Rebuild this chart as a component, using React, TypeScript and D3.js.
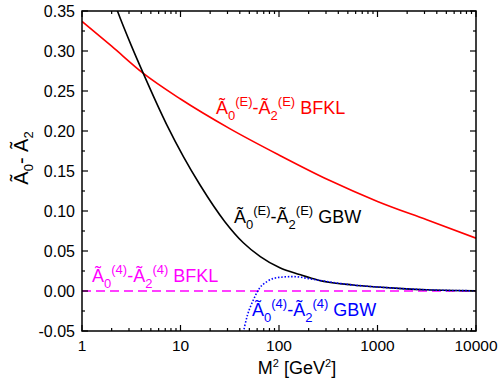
import React, { useEffect, useRef } from 'react';
import * as d3 from 'd3';

// M^2 [GeV^2] vs value
const bfklE_m2 = [1, 2, 4.2, 10, 31.6, 100, 316, 1000, 3162, 10000];
const bfklE_val = [0.337, 0.306, 0.272, 0.24, 0.203, 0.17, 0.139, 0.112, 0.089, 0.066];

const gbwE_m2 = [2.0, 2.29, 3.16, 4.19, 7.24, 10.7, 15.8, 28.2, 43.7, 64.6, 102, 162, 251, 562, 1000, 1778, 3162, 10000];
const gbwE_val = [0.37, 0.35, 0.307, 0.272, 0.208, 0.168, 0.1325, 0.0867, 0.06, 0.043, 0.029, 0.0205, 0.0135, 0.0075, 0.005, 0.003, 0.0015, 0.0003];

const gbw4_m2 = [42, 47.9, 55, 63, 76, 100, 141, 200, 251, 562, 1000, 1778, 3162, 10000];
const gbw4_val = [-0.06, -0.03, -0.011, 0.003, 0.012, 0.017, 0.018, 0.0155, 0.0135, 0.0075, 0.005, 0.003, 0.0015, 0.0003];

const bfkl4_m2 = [1, 10000];
const bfkl4_val = [0, 0];

const xTicks = [1, 10, 100, 1000, 10000];
const xTickLabels = ['1', '10', '100', '1000', '10000'];
const yTicks = [-0.05, 0, 0.05, 0.1, 0.15, 0.2, 0.25, 0.3, 0.35];
const yTickLabels = ['-0.05', '0.00', '0.05', '0.10', '0.15', '0.20', '0.25', '0.30', '0.35'];

const W = 498, H = 380;
const margin = { top: 11, right: 22, bottom: 49, left: 82 };
const FONT = 'Liberation Sans, Arial, Helvetica, sans-serif';

type Part = [string, 'n' | 'sub' | 'sup'];
const labelParts = (idx: string, tail: string): Part[] => [
  ['Ã', 'n'], ['0', 'sub'], [`(${idx})`, 'sup'], ['-Ã', 'n'], ['2', 'sub'], [`(${idx})`, 'sup'], [' ' + tail, 'n'],
];

const App = () => {
  const svgRef = useRef<SVGSVGElement>(null);

  useEffect(() => {
    const svg = d3.select(svgRef.current);
    svg.selectAll('*').remove();

    const width = W - margin.left - margin.right;
    const height = H - margin.top - margin.bottom;

    const x = d3.scaleLog().domain([1, 10000]).range([0, width]);
    const y = d3.scaleLinear().domain([-0.05, 0.35]).range([height, 0]);

    svg.append('defs').append('clipPath').attr('id', 'plot-clip')
      .append('rect').attr('width', width).attr('height', height);

    const g = svg.append('g').attr('transform', `translate(${margin.left},${margin.top})`);
    const plot = g.append('g').attr('clip-path', 'url(#plot-clip)');

    const line = d3.line<[number, number]>()
      .x(d => x(d[0])).y(d => y(d[1]))
      .curve(d3.curveMonotoneX);

    const zip = (a: number[], b: number[]) => a.map((v, i) => [v, b[i]] as [number, number]);

    plot.append('path').datum(zip(bfkl4_m2, bfkl4_val)).attr('d', line)
      .attr('fill', 'none').attr('stroke', '#ff00ff').attr('stroke-width', 1.6).attr('stroke-dasharray', '9 5');
    plot.append('path').datum(zip(bfklE_m2, bfklE_val)).attr('d', line)
      .attr('fill', 'none').attr('stroke', '#ff0000').attr('stroke-width', 1.6);
    plot.append('path').datum(zip(gbwE_m2, gbwE_val)).attr('d', line)
      .attr('fill', 'none').attr('stroke', '#000').attr('stroke-width', 1.6);
    plot.append('path').datum(zip(gbw4_m2, gbw4_val)).attr('d', line)
      .attr('fill', 'none').attr('stroke', '#0000ff').attr('stroke-width', 1.6).attr('stroke-dasharray', '1.5 1.8');

    // frame
    g.append('rect').attr('width', width).attr('height', height)
      .attr('fill', 'none').attr('stroke', '#000').attr('stroke-width', 1.5);

    // ticks, inward and mirrored
    const xMinor: number[] = [];
    xTicks.slice(0, -1).forEach(t => { for (let k = 2; k <= 9; k++) xMinor.push(t * k); });
    const tk = g.append('g').attr('stroke', '#000').attr('stroke-width', 1.2);
    xTicks.forEach(t => {
      tk.append('line').attr('x1', x(t)).attr('x2', x(t)).attr('y1', height).attr('y2', height - 6);
      tk.append('line').attr('x1', x(t)).attr('x2', x(t)).attr('y1', 0).attr('y2', 6);
    });
    xMinor.forEach(t => {
      tk.append('line').attr('x1', x(t)).attr('x2', x(t)).attr('y1', height).attr('y2', height - 3);
      tk.append('line').attr('x1', x(t)).attr('x2', x(t)).attr('y1', 0).attr('y2', 3);
    });
    yTicks.forEach((t, i) => {
      tk.append('line').attr('x1', 0).attr('x2', 6).attr('y1', y(t)).attr('y2', y(t));
      tk.append('line').attr('x1', width).attr('x2', width - 6).attr('y1', y(t)).attr('y2', y(t));
      if (i < yTicks.length - 1) {
        const m = (t + yTicks[i + 1]) / 2;
        tk.append('line').attr('x1', 0).attr('x2', 3).attr('y1', y(m)).attr('y2', y(m));
        tk.append('line').attr('x1', width).attr('x2', width - 3).attr('y1', y(m)).attr('y2', y(m));
      }
    });

    // tick labels
    g.selectAll('.xl').data(xTicks).enter().append('text')
      .attr('x', d => x(d)).attr('y', height + 20).attr('text-anchor', 'middle')
      .style('font-family', FONT).style('font-size', '15.5px').text((d, i) => xTickLabels[i]);
    g.selectAll('.yl').data(yTicks).enter().append('text')
      .attr('x', -7).attr('y', d => y(d) + 5.8).attr('text-anchor', 'end')
      .style('font-family', FONT).style('font-size', '16px').text((d, i) => yTickLabels[i]);

    // axis titles
    const xt = svg.append('text').attr('x', 297).attr('y', 374).attr('text-anchor', 'middle')
      .style('font-family', FONT).style('font-size', '18px');
    xt.append('tspan').text('M');
    xt.append('tspan').attr('dy', -7).style('font-size', '11px').text('2');
    xt.append('tspan').attr('dy', 7).style('white-space', 'pre').text(' [GeV');
    xt.append('tspan').attr('dy', -7).style('font-size', '11px').text('2');
    xt.append('tspan').attr('dy', 7).text(']');

    const yt = svg.append('text').attr('transform', `translate(28,158) rotate(-90)`)
      .attr('text-anchor', 'middle').style('font-family', FONT).style('font-size', '20px');
    yt.append('tspan').text('Ã');
    yt.append('tspan').attr('dy', 5).style('font-size', '13px').text('0');
    yt.append('tspan').attr('dy', -5).style('white-space', 'pre').text('- Ã');
    yt.append('tspan').attr('dy', 5).style('font-size', '13px').text('2');

    // curve labels
    const addLabel = (px: number, py: number, color: string, parts: Part[]) => {
      const t = svg.append('text').attr('x', px).attr('y', py).attr('fill', color)
        .style('font-family', FONT).style('font-size', '18px');
      let cur = 0;
      parts.forEach(([s, k]) => {
        const off = k === 'sub' ? 6 : k === 'sup' ? -8 : 0;
        t.append('tspan').attr('dy', off - cur)
          .style('font-size', k === 'n' ? '18px' : '13px')
          .style('white-space', 'pre').text(s);
        cur = off;
      });
    };
    addLabel(216, 114, '#ff0000', labelParts('E', 'BFKL'));
    addLabel(234, 223, '#000000', labelParts('E', 'GBW'));
    addLabel(92, 282, '#ff00ff', labelParts('4', 'BFKL'));
    addLabel(252, 316, '#0000ff', labelParts('4', 'GBW'));
  }, []);

  return (
    <svg ref={svgRef} width={W} height={H}
      style={{ position: 'absolute', left: 0, top: 0, background: '#fff' }} />
  );
};

export default App;
